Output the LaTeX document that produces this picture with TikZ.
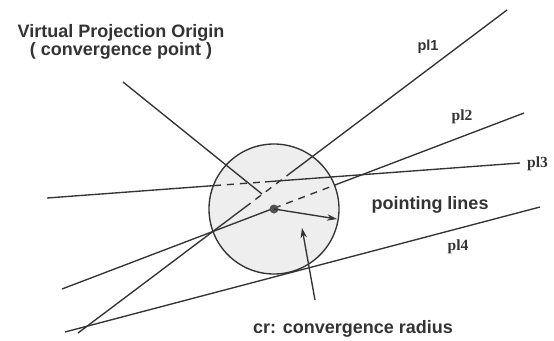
\documentclass[tikz,border=0pt]{standalone}
\usepackage{fontspec}
\setmainfont{Liberation Sans}
\newfontfamily\seriffont{Liberation Serif}
\usetikzlibrary{arrows.meta}
\definecolor{ink}{HTML}{333333}
\begin{document}
\begin{tikzpicture}[x=1pt,y=-1pt,
  ln/.style={draw=ink,line width=1.35pt},
  dsh/.style={draw=ink,line width=1.35pt,dash pattern=on 7pt off 6pt},
  lbl/.style={font=\fontsize{18}{19}\selectfont\bfseries,text=ink,inner sep=0pt},
  pll/.style={font=\fontsize{14.5}{15}\selectfont\bfseries,text=ink,inner sep=0pt,anchor=base},
  arr/.style={ln,-{Stealth[length=10pt,width=6.5pt]}}]
\useasboundingbox (0,0) rectangle (554,340);
% circle
\node[circle,draw=ink,line width=1.35pt,fill=gray!13,minimum size=130pt,inner sep=0pt] (cr) at (274,209) {};
% pointing lines
\coordinate (a1) at (78,333); \coordinate (m1) at (245,207.3); \coordinate (n1) at (288,174.9); \coordinate (b1) at (507,10);
\coordinate (a2) at (62,289); \coordinate (m2) at (274,208.2); \coordinate (n2) at (335,185); \coordinate (b2) at (524,113);
\coordinate (a3) at (47,198); \coordinate (m3) at (214,185.6); \coordinate (n3) at (265,181.9); \coordinate (b3) at (520,163);
\coordinate (a4) at (65,332); \coordinate (b4) at (540,207);
\draw[ln] (a1) -- (m1); \draw[dsh] (m1) -- (n1); \draw[ln] (n1) -- (b1);
\draw[ln] (a2) -- (m2); \draw[dsh] (m2) -- (n2); \draw[ln] (n2) -- (b2);
\draw[ln] (a3) -- (m3); \draw[dsh] (m3) -- (n3); \draw[ln] (n3) -- (b3);
\draw[ln] (a4) -- (b4);
% centre dot and radius arrow
\node[circle,fill=ink!85,minimum size=9pt,inner sep=0pt] (dot) at (274,209) {};
\coordinate (re) at (337,219);
\draw[arr] (dot.center) -- (re);
% virtual origin
\coordinate (vo) at (262,194);
\node[lbl,align=center,anchor=base] (vpo) at (121,55) {Virtual Projection Origin\\[-1pt]( convergence point )};
\coordinate (vs) at (123,82);
\draw[ln] (vs) -- (vo);
% labels
\node[lbl,anchor=base] (pt) at (430,209) {pointing lines};
\node[lbl,anchor=base] (crt) at (353,333) {cr: convergence radius};
\coordinate (cs) at (315,300); \coordinate (ce) at (302,228);
\draw[arr] (cs) -- (ce);
\node[pll] (p1) at (428,50) {pl1};
\node[pll,font=\fontsize{15.5}{16}\selectfont\seriffont\bfseries] (p2) at (462,120) {pl2};
\node[pll,font=\fontsize{15.5}{16}\selectfont\seriffont\bfseries,anchor=base west] (p3) at (527,167) {pl3};
\node[pll,font=\fontsize{15.5}{16}\selectfont\seriffont\bfseries] (p4) at (458,250) {pl4};
\end{tikzpicture}
\end{document}
